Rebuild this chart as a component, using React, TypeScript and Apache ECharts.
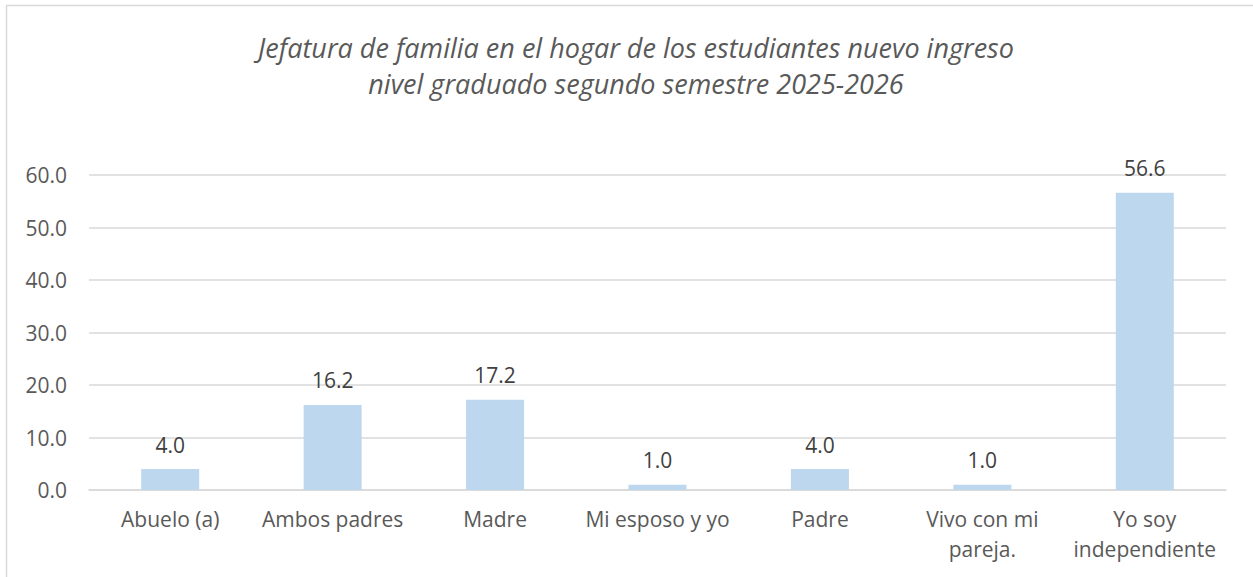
import React, { useEffect, useRef } from "react";
import * as echarts from "echarts";

const titleLines = [
  "Jefatura de familia en el hogar de los estudiantes nuevo ingreso",
  "nivel graduado segundo semestre 2025-2026",
];
const categories = [
  "Abuelo (a)",
  "Ambos padres",
  "Madre",
  "Mi esposo y yo",
  "Padre",
  "Vivo con mi\npareja.",
  "Yo soy\nindependiente",
];
const values = [4.0, 16.2, 17.2, 1.0, 4.0, 1.0, 56.6];
const yMin = 0;
const yMax = 60;
const yInterval = 10;

const FONT = "'Open Sans', sans-serif";

export default function App() {
  const ref = useRef<HTMLDivElement>(null);
  useEffect(() => {
    if (!ref.current) return;
    const chart = echarts.init(ref.current, undefined, { renderer: "svg" });
    chart.setOption({
      animation: false,
      backgroundColor: "#ffffff",
      title: {
        text: titleLines.join("\n"),
        left: 631,
        textAlign: "center",
        top: 24,
        textStyle: {
          fontFamily: FONT,
          fontStyle: "italic",
          fontWeight: "normal",
          fontSize: 27,
          lineHeight: 36,
          color: "#595959",
        },
      },
      graphic: [
        {
          type: "rect",
          shape: { x: 6.5, y: 5.5, width: 1400, height: 700 },
          style: { fill: "none", stroke: "#d9d9d9", lineWidth: 1.5 },
          silent: true,
        },
      ],
      grid: { left: 89, right: 27, top: 175, bottom: 87, containLabel: false },
      xAxis: {
        type: "category",
        data: categories,
        axisLine: { show: true, lineStyle: { color: "#d9d9d9", width: 1.5 } },
        axisTick: { show: false },
        axisLabel: {
          interval: 0,
          margin: 14,
          fontFamily: FONT,
          fontSize: 21,
          lineHeight: 30,
          color: "#595959",
        },
      },
      yAxis: {
        type: "value",
        min: yMin,
        max: yMax,
        interval: yInterval,
        axisLine: { show: false },
        axisTick: { show: false },
        splitLine: { lineStyle: { color: "#d9d9d9", width: 1.5 } },
        axisLabel: {
          margin: 22,
          fontFamily: FONT,
          fontSize: 21,
          color: "#595959",
          formatter: (v: number) => v.toFixed(1),
        },
      },
      series: [
        {
          type: "bar",
          data: values,
          barWidth: 58,
          itemStyle: { color: "#bdd7ee" },
          label: {
            show: true,
            position: "top",
            distance: 14,
            fontFamily: FONT,
            fontSize: 21,
            color: "#404040",
            formatter: (p: any) => Number(p.value).toFixed(1),
          },
        },
      ],
    });
    return () => chart.dispose();
  }, []);
  return (
    <div
      ref={ref}
      style={{ position: "absolute", left: 0, top: 0, width: 1253, height: 577 }}
    />
  );
}
